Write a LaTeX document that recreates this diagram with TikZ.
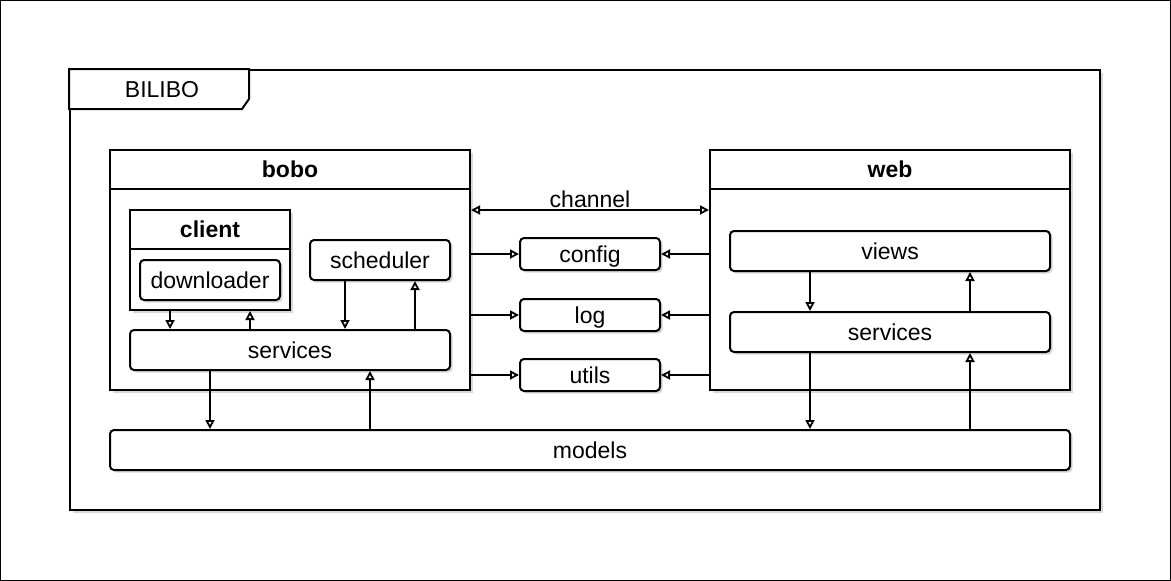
\documentclass[tikz,border=0pt]{standalone}
\usepackage{fontspec}
\setmainfont{Liberation Sans}
\usetikzlibrary{arrows.meta, positioning, calc, shadows}

\begin{document}
\begin{tikzpicture}[
    x=1pt, y=-1pt,
    font=\fontsize{23}{27}\selectfont,
    shade/.style={drop shadow={opacity=0.3, shadow xshift=2.5pt, shadow yshift=-2.5pt}},
    pkg/.style={rectangle, draw, line width=2pt, fill=white, shade},
    box/.style={rectangle, draw, line width=2pt, rounded corners=4pt, fill=white, shade, inner sep=0pt, align=center, text height=17pt, text depth=1pt},
    head/.style={font=\fontsize{23}{27}\selectfont\bfseries},
    arrow/.style={-{Triangle[open, length=9pt, width=9pt]}, line width=1.8pt},
    both/.style={{Triangle[open, length=9pt, width=9pt]}-{Triangle[open, length=9pt, width=9pt]}, line width=1.8pt},
]

\useasboundingbox (0,0) rectangle (1171,581);
\draw[line width=1pt] (0.5,0.5) rectangle (1170.5,580.5);

% outer frame
\node[pkg, minimum width=1030pt, minimum height=440pt] (frame) at (585,290) {};
\draw[line width=2pt, fill=white] (frame.north west) -- ++(180,0) -- ++(0,30) -- ++(-7,10) -- ++(-173,0) -- cycle;
\node (title) at (162,90) {BILIBO};

% bobo
\node[pkg, minimum width=360pt, minimum height=240pt] (bobo) at (290,270) {};
\draw[line width=2pt] ($(bobo.north west)+(0,40)$) -- ($(bobo.north east)+(0,40)$);
\node[head] (bobotitle) at ($(bobo.north)+(0,20)$) {bobo};

\node[pkg, minimum width=160pt, minimum height=100pt] (client) at (210,260) {};
\draw[line width=2pt] ($(client.north west)+(0,40)$) -- ($(client.north east)+(0,40)$);
\node[head] (clienttitle) at ($(client.north)+(0,20)$) {client};
\node[box, minimum width=140pt, minimum height=40pt] (downloader) at (210,280) {downloader};

\node[box, minimum width=140pt, minimum height=40pt] (scheduler) at (380,260) {scheduler};
\node[box, minimum width=320pt, minimum height=40pt] (bsvc) at (290,350) {services};

\draw[arrow] ([xshift=-40pt]client.south) -- ([xshift=-40pt]client.south |- bsvc.north);
\draw[arrow] ([xshift=40pt]client.south |- bsvc.north) -- ([xshift=40pt]client.south);
\draw[arrow] ([xshift=-35pt]scheduler.south) -- ([xshift=-35pt]scheduler.south |- bsvc.north);
\draw[arrow] ([xshift=35pt]scheduler.south |- bsvc.north) -- ([xshift=35pt]scheduler.south);

% web
\node[pkg, minimum width=360pt, minimum height=240pt] (web) at (890,270) {};
\draw[line width=2pt] ($(web.north west)+(0,40)$) -- ($(web.north east)+(0,40)$);
\node[head] (webtitle) at ($(web.north)+(0,20)$) {web};

\node[box, minimum width=320pt, minimum height=40pt] (views) at (890,251) {views};
\node[box, minimum width=320pt, minimum height=40pt] (wsvc) at (890,332) {services};

\draw[arrow] ([xshift=-80pt]views.south) -- ([xshift=-80pt]views.south |- wsvc.north);
\draw[arrow] ([xshift=80pt]views.south |- wsvc.north) -- ([xshift=80pt]views.south);

% shared modules
\node[box, minimum width=140pt, minimum height=32pt] (config) at (590,254) {config};
\node[box, minimum width=140pt, minimum height=32pt] (log) at (590,315) {log};
\node[box, minimum width=140pt, minimum height=32pt] (utils) at (590,375) {utils};

\draw[both] (bobo.east |- 0,210) -- node[above, yshift=-2pt]{channel} (web.west |- 0,210);
\foreach \m in {config, log, utils} {
    \draw[arrow] (bobo.east |- \m.west) -- (\m.west);
    \draw[arrow] (web.west |- \m.east) -- (\m.east);
}

% models
\node[box, minimum width=960pt, minimum height=40pt] (models) at (590,450) {models};

\draw[arrow] ([xshift=-80pt]bsvc.south) -- ([xshift=-80pt]bsvc.south |- models.north);
\draw[arrow] ([xshift=80pt]bsvc.south |- models.north) -- ([xshift=80pt]bsvc.south);
\draw[arrow] ([xshift=-80pt]wsvc.south) -- ([xshift=-80pt]wsvc.south |- models.north);
\draw[arrow] ([xshift=80pt]wsvc.south |- models.north) -- ([xshift=80pt]wsvc.south);

\end{tikzpicture}
\end{document}
